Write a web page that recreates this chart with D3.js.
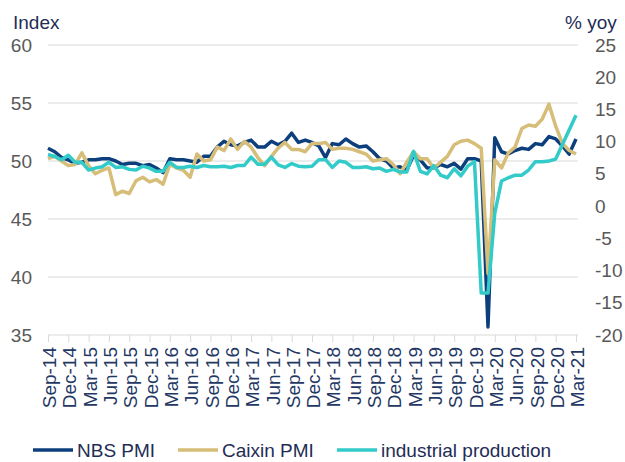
<!DOCTYPE html>
<html>
<head>
<meta charset="utf-8">
<style>
    body { margin: 0; background: #fff; }
    svg { font-family: "Liberation Sans", Arial, sans-serif; }
    .grid line { stroke: #d9d9d9; stroke-width: 1; }
    .line { fill: none; stroke-width: 3.5; stroke-linejoin: round; }
</style>
</head>
<body>
<svg id="chart" width="625" height="462"></svg>
<script src="https://d3js.org/d3.v7.min.js"></script>
<script>
    // monthly values, Sep-14 .. Mar-21
    let nbsPmi = [51.1, 50.8, 50.3, 50.1,
        49.8, 49.9, 50.1, 50.1, 50.2, 50.2, 50.0, 49.7, 49.8, 49.8, 49.6, 49.7,
        49.4, 49.0, 50.2, 50.1, 50.1, 50.0, 49.9, 50.4, 50.4, 51.2, 51.7, 51.4,
        51.3, 51.6, 51.8, 51.2, 51.2, 51.7, 51.4, 51.7, 52.4, 51.6, 51.8, 51.6,
        51.3, 50.3, 51.5, 51.4, 51.9, 51.5, 51.2, 51.3, 50.8, 50.2, 50.0, 49.4,
        49.5, 49.2, 50.5, 50.1, 49.4, 49.4, 49.7, 49.5, 49.8, 49.3, 50.2, 50.2,
        50.0, 35.7, 52.0, 50.8, 50.6, 50.9, 51.1, 51.0, 51.5, 51.4, 52.1, 51.9,
        51.3, 50.6, 51.9];
    let caixinPmi = [50.2, 50.4, 50.0, 49.6,
        49.7, 50.7, 49.6, 48.9, 49.2, 49.4, 47.1, 47.4, 47.2, 48.3, 48.6, 48.2,
        48.4, 48.0, 49.7, 49.4, 49.2, 48.6, 50.6, 50.0, 50.1, 51.2, 50.9, 51.9,
        51.0, 51.7, 51.2, 50.3, 49.6, 50.4, 51.1, 51.6, 51.0, 51.0, 50.8, 51.5,
        51.5, 51.6, 51.0, 51.1, 51.1, 51.0, 50.8, 50.6, 50.0, 50.1, 50.2, 49.7,
        48.9, 49.9, 50.8, 50.2, 50.2, 49.4, 49.9, 50.4, 51.4, 51.7, 51.8, 51.5,
        51.1, 40.3, 50.1, 49.4, 50.7, 51.2, 52.8, 53.1, 53.0, 53.6, 54.9, 53.0,
        51.5, 50.9, 50.6];
    let industrialProd = [8.0, 7.7, 7.2, 7.9,
        6.8, 6.8, 5.6, 5.9, 6.1, 6.8, 6.0, 6.1, 5.7, 5.6, 6.2, 5.9,
        5.4, 5.4, 6.8, 6.0, 6.0, 6.2, 6.0, 6.3, 6.1, 6.1, 6.2, 6.0,
        6.3, 6.3, 7.6, 6.5, 6.5, 7.6, 6.4, 6.0, 6.6, 6.2, 6.1, 6.2,
        7.2, 7.2, 6.0, 7.0, 6.8, 6.0, 6.0, 6.1, 5.8, 5.9, 5.4, 5.7,
        5.3, 5.3, 8.5, 5.4, 5.0, 6.3, 4.8, 4.4, 5.8, 4.7, 6.2, 6.9,
        -13.5, -13.5, -1.1, 3.9, 4.4, 4.8, 4.8, 5.6, 6.9, 6.9, 7.0, 7.3,
        null, null, 14.1];

    let leftTicks = [35, 40, 45, 50, 55, 60];
    let rightTicks = [-20, -15, -10, -5, 0, 5, 10, 15, 20, 25];
    let seriesNames = ["NBS PMI", "Caixin PMI", "industrial production"];
    let seriesColors = ["#0d3f7d", "#d6bd78", "#32cbc9"];

    let months = d3.timeMonth.range(new Date(2014, 8, 1), new Date(2021, 3, 1))
        .map(d3.timeFormat("%b-%y"));

    let svg = d3.select("#chart");
    let plotL = 48, plotR = 578, plotT = 45, plotB = 335;

    let x = d3.scalePoint().domain(months).range([plotL, 576]);
    let y = d3.scaleLinear().domain([35, 60]).range([plotB, plotT]);
    let y2 = d3.scaleLinear().domain([-20, 25]).range([plotB, plotT]);

    // gridlines
    svg.append("g").attr("class", "grid")
        .selectAll("line")
        .data(leftTicks.slice(1))
        .enter().append("line")
        .attr("x1", plotL).attr("x2", plotR)
        .attr("y1", (d) => y(d)).attr("y2", (d) => y(d));

    // left axis
    let yAxis = svg.append("g")
        .attr("transform", "translate(" + plotL + ",0)")
        .call(d3.axisLeft(y).tickValues(leftTicks).tickSize(0).tickPadding(16));
    yAxis.select(".domain").remove();
    yAxis.selectAll("text").attr("fill", "#595959").style("font-size", "19px");

    // right axis (plain hyphen for negatives, as in the source)
    let y2Axis = svg.append("g")
        .attr("transform", "translate(" + plotR + ",0)")
        .call(d3.axisRight(y2).tickValues(rightTicks).tickSize(0).tickPadding(17)
            .tickFormat((d) => String(d)));
    y2Axis.select(".domain").remove();
    y2Axis.selectAll("text").attr("fill", "#595959").style("font-size", "19px");

    // bottom axis
    svg.append("line")
        .attr("x1", plotL).attr("x2", plotR)
        .attr("y1", plotB).attr("y2", plotB)
        .attr("stroke", "#d9d9d9");
    let xAxis = svg.append("g")
        .attr("transform", "translate(0," + plotB + ")")
        .call(d3.axisBottom(x).tickValues(months.filter((d, i) => i % 3 == 0)).tickSize(7).tickSizeOuter(0));
    xAxis.select(".domain").remove();
    xAxis.selectAll(".tick line").attr("stroke", "#d9d9d9");
    xAxis.selectAll("text")
        .attr("transform", "rotate(-90)")
        .attr("x", -12).attr("y", 1).attr("dy", "0.35em")
        .style("text-anchor", "end")
        .style("font-size", "19px")
        .attr("fill", "#1f3864");

    // axis titles
    svg.append("text").attr("x", 13).attr("y", 29)
        .style("font-size", "19px").attr("fill", "#1f2d55").text("Index");
    svg.append("text").attr("x", 565).attr("y", 29)
        .style("font-size", "19px").attr("fill", "#1f2d55").text("% yoy");

    // lines (blank months are bridged like the source chart)
    let line1 = d3.line().x((d) => x(d.m)).y((d) => y(d.v));
    let line2 = d3.line().x((d) => x(d.m)).y((d) => y2(d.v));
    let toPts = (arr) => arr.map((v, i) => ({m: months[i], v: v})).filter((d) => d.v != null);

    svg.append("path").datum(toPts(nbsPmi)).attr("class", "line")
        .attr("stroke", seriesColors[0]).attr("d", line1);
    svg.append("path").datum(toPts(caixinPmi)).attr("class", "line")
        .attr("stroke", seriesColors[1]).attr("d", line1);
    svg.append("path").datum(toPts(industrialProd)).attr("class", "line")
        .attr("stroke", seriesColors[2]).attr("d", line2);

    // legend
    let legendX = [33, 178, 337];
    let lg = svg.append("g").selectAll("g")
        .data(seriesNames)
        .enter().append("g")
        .attr("transform", (d, i) => "translate(" + legendX[i] + ",450)");
    lg.append("line").attr("x1", 0).attr("x2", 40)
        .attr("stroke", (d, i) => seriesColors[i]).attr("stroke-width", 3.5);
    lg.append("text").attr("x", 44).attr("dy", "0.35em")
        .style("font-size", "19px").attr("fill", "#1f2d55").text((d) => d);
</script>
</body>
</html>
